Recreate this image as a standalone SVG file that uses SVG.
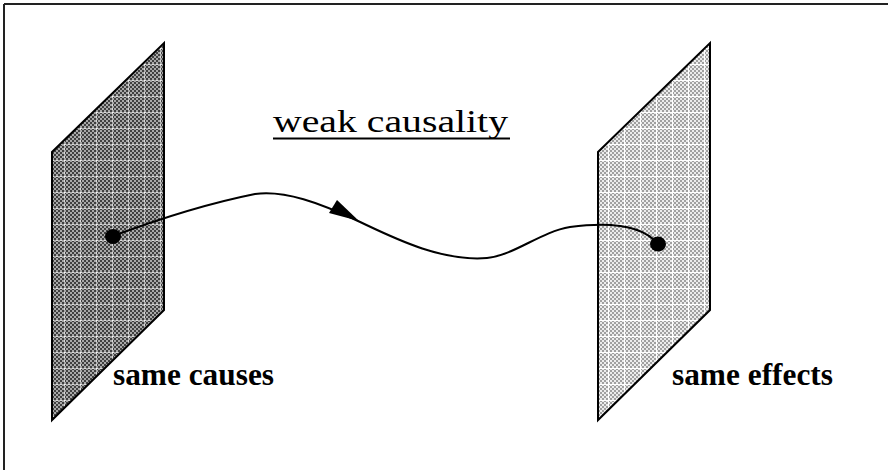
<svg xmlns="http://www.w3.org/2000/svg" width="888" height="470" viewBox="0 0 888 470">
  <style>
    .plane { stroke: #000; stroke-width: 2; stroke-linejoin: miter; }
    .label { font-weight: bold; font-size: 31px; fill: #000; }
    .title { font-size: 32px; fill: #000; }
    .curve { fill: none; stroke: #000; stroke-width: 2; }
    .dot { fill: #000; }
  </style>
  <defs>
    <pattern id="chkDark" patternUnits="userSpaceOnUse" width="4" height="4">
      <rect width="4" height="4" fill="#a8a8a8"/>
      <rect width="2" height="2" fill="#404040"/>
      <rect x="2" y="2" width="2" height="2" fill="#404040"/>
    </pattern>
    <pattern id="pDark" patternUnits="userSpaceOnUse" width="16" height="16">
      <rect width="16" height="16" fill="url(#chkDark)"/>
      <line x1="0" y1="0.5" x2="16" y2="0.5" stroke="#fff" stroke-width="1" stroke-dasharray="2 2" opacity="0.8"/>
      <line x1="0.5" y1="0" x2="0.5" y2="16" stroke="#fff" stroke-width="1" stroke-dasharray="2 2" opacity="0.8"/>
    </pattern>
    <pattern id="chkLight" patternUnits="userSpaceOnUse" width="4" height="4">
      <rect width="4" height="4" fill="#ececec"/>
      <rect width="2" height="2" fill="#a0a0a0"/>
      <rect x="2" y="2" width="2" height="2" fill="#a0a0a0"/>
    </pattern>
    <pattern id="pLight" patternUnits="userSpaceOnUse" width="16" height="16">
      <rect width="16" height="16" fill="url(#chkLight)"/>
      <line x1="0" y1="0.5" x2="16" y2="0.5" stroke="#fff" stroke-width="1"/>
      <line x1="0.5" y1="0" x2="0.5" y2="16" stroke="#fff" stroke-width="1"/>
    </pattern>
  </defs>

  <rect width="888" height="470" fill="#fff"/>

  <g id="frame">
    <line x1="4" y1="4" x2="888" y2="4" stroke="#222" stroke-width="2"/>
    <line x1="4" y1="4" x2="4" y2="470" stroke="#222" stroke-width="2"/>
  </g>

  <g id="title">
    <text class="title" font-family="'Liberation Serif', 'Times New Roman', Times, serif" x="273" y="132" textLength="235" lengthAdjust="spacingAndGlyphs">weak causality</text>
    <line x1="273" y1="138.5" x2="510" y2="138.5" stroke="#000" stroke-width="2"/>
  </g>

  <g id="causes">
    <polygon class="plane" points="52,152 164,43 164,310 52,420" fill="url(#pDark)"/>
    <text class="label" font-family="'Liberation Serif', 'Times New Roman', Times, serif" x="113" y="385" textLength="161" lengthAdjust="spacingAndGlyphs">same causes</text>
  </g>

  <g id="effects">
    <polygon class="plane" points="598,152 710,43 710,310 598,420" fill="url(#pLight)"/>
    <text class="label" font-family="'Liberation Serif', 'Times New Roman', Times, serif" x="672" y="385" textLength="161" lengthAdjust="spacingAndGlyphs">same effects</text>
  </g>

  <g id="connectors">
    <path class="curve" d="M113,236 C140,226 200,205 255,194 C285,190 320,203 358,221 C390,236 440,262 487,258 C515,255 540,232 570,227 C600,223 640,222 658,244"/>
    <polygon points="337,200 329,213 359,221" fill="#000"/>
    <ellipse class="dot" cx="113" cy="236.5" rx="8" ry="7.5"/>
    <ellipse class="dot" cx="658" cy="244" rx="8" ry="7.5"/>
  </g>
</svg>
